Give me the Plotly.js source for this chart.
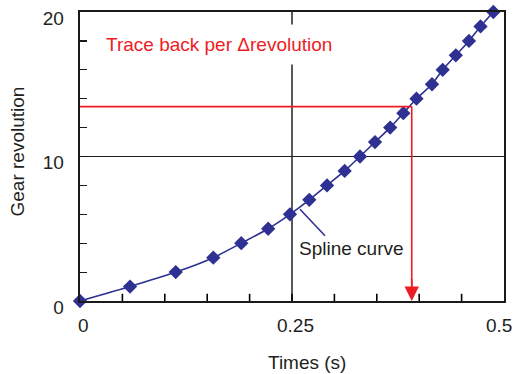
<!DOCTYPE html>
<html>
<head>
<meta charset="utf-8">
<script src="https://cdn.plot.ly/plotly-3.0.1.min.js"></script>
<style>
  html, body { margin: 0; padding: 0; background: #fff; }
  #chart { width: 514px; height: 374px; }
</style>
</head>
<body>
<div id="chart"></div>
<script>
// Gear revolution sampled against time (s)
const times = [0, 0.059, 0.1129, 0.1572, 0.1902, 0.2219, 0.2476, 0.2704, 0.2913, 0.3121,
               0.3302, 0.3479, 0.3658, 0.3813, 0.3968, 0.4151, 0.4277, 0.4432, 0.4587, 0.4723, 0.4874];
const revolutions = [0, 1, 2, 3, 4, 5, 6, 7, 8, 9, 10, 11, 12, 13, 14, 15, 16, 17, 18, 19, 20];

// Trace-back point: revolution read across to the curve, then down to time
const traceRev = 13.45;
const traceTime = 0.3912;

// Axis tick values and labels
const xTickVals = [0, 0.25, 0.5];
const xTickText = ['0', '0.25', '0.5'];
const xMinorStep = 0.05;
const yTickVals = [0, 10, 20];
const yTickText = ['0', '10', '20'];

const navy = '#2e3192';
const red = '#ed1c24';
const ink = '#231f20';
const axisInk = '#1a1a1a';
const gridInk = '#1e1e1e';
const FONT = 'Liberation Sans, Arial, sans-serif';

const curve = {
  x: times,
  y: revolutions,
  type: 'scatter',
  mode: 'lines+markers',
  line: { color: navy, width: 1.6, shape: 'spline', smoothing: 0.6 },
  marker: { symbol: 'diamond', size: 11, color: navy },
  cliponaxis: false,
  hoverinfo: 'skip',
  showlegend: false
};

// x tick labels placed under the axis
const xLabelShift = [3, 3, -5];
const xTickAnnotations = xTickVals.map((v, i) => ({
  x: v, xref: 'x', y: -0.0865, yref: 'paper',
  text: xTickText[i], showarrow: false,
  xanchor: 'center', yanchor: 'middle', xshift: xLabelShift[i],
  font: { family: FONT, size: 19, color: ink }
}));

// inward tick marks every 0.05 s on the time axis (about 7 px tall)
const xTickShapes = [];
for (let k = 1; k < Math.round(0.5 / xMinorStep); k++) {
  const t = +(k * xMinorStep).toFixed(2);
  xTickShapes.push({
    type: 'line', xref: 'x', yref: 'y', x0: t, x1: t, y0: 0, y1: 0.5,
    line: { color: '#000000', width: 1.6 }, layer: 'above'
  });
}

// vertical grid line at the inner labelled time
const xGridShapes = xTickVals.slice(1, -1).map(v => ({
  type: 'line', xref: 'x', yref: 'y', x0: v, x1: v, y0: 0, y1: 20,
  line: { color: '#000000', width: 1.3 }, layer: 'below'
}));

const layout = {
  width: 514,
  height: 374,
  margin: { l: 80, r: 10, t: 12, b: 73, pad: 0 },
  paper_bgcolor: '#ffffff',
  plot_bgcolor: '#ffffff',
  font: { family: FONT, size: 19, color: ink },
  xaxis: {
    range: [0, 0.5],
    showticklabels: false,
    ticks: '',
    showgrid: false,
    showline: true, linecolor: axisInk, linewidth: 2.4, mirror: true,
    zeroline: false, fixedrange: true
  },
  yaxis: {
    range: [0, 20],
    tickmode: 'array',
    tickvals: yTickVals,
    ticktext: yTickText,
    tickfont: { family: FONT, size: 19, color: ink },
    ticklabelstandoff: 10,
    ticklabelshift: 6,
    ticks: 'inside', ticklen: 7, tickwidth: 1.2, tickcolor: axisInk,
    minor: { tickmode: 'linear', dtick: 2, tick0: 0, ticks: 'inside', ticklen: 7, tickwidth: 1.2, tickcolor: axisInk, showgrid: false },
    showgrid: true, gridcolor: gridInk, gridwidth: 1,
    showline: true, linecolor: axisInk, linewidth: 2.4, mirror: true,
    zeroline: false, fixedrange: true
  },
  shapes: xGridShapes.concat(xTickShapes, [
    // horizontal read-across at the chosen revolution
    { type: 'line', xref: 'x', yref: 'y', x0: 0, x1: traceTime, y0: traceRev, y1: traceRev,
      line: { color: red, width: 1.6 }, layer: 'above' },
    // vertical drop to the time axis
    { type: 'line', xref: 'x', yref: 'y', x0: traceTime, x1: traceTime, y0: traceRev, y1: 0.5,
      line: { color: red, width: 1.6 }, layer: 'above' },
    // leader line for the curve label
    { type: 'line', xref: 'x', yref: 'y', x0: 0.2594, y0: 6.35, x1: 0.2889, y1: 4.52,
      line: { color: navy, width: 1.6 }, layer: 'above' }
  ]),
  annotations: [
    // arrow head on the time axis
    { x: traceTime, y: 0, xref: 'x', yref: 'y', ax: 0, ay: -24, axref: 'pixel', ayref: 'pixel',
      text: '', showarrow: true, arrowhead: 2, arrowsize: 1.8, arrowwidth: 1.6, arrowcolor: red },
    { x: 0.019, y: 17.75, xref: 'x', yref: 'y', xanchor: 'left', yanchor: 'middle',
      text: 'Trace back per \u0394revolution', showarrow: false,
      bgcolor: '#ffffff', borderpad: 9,
      font: { family: FONT, size: 19, color: red } },
    { x: 0.3199, y: 3.65, xref: 'x', yref: 'y', xanchor: 'center', yanchor: 'middle',
      text: 'Spline curve', showarrow: false,
      font: { family: FONT, size: 19, color: ink } },
    // axis titles
    { x: 0.5347, y: -0.2145, xref: 'paper', yref: 'paper', xanchor: 'center', yanchor: 'middle',
      text: 'Times (s)', showarrow: false, font: { family: FONT, size: 19, color: ink } },
    { x: -0.1474, y: 0.5156, xref: 'paper', yref: 'paper', xanchor: 'center', yanchor: 'middle',
      text: 'Gear revolution', textangle: -90, showarrow: false, font: { family: FONT, size: 19, color: ink } }
  ].concat(xTickAnnotations)
};

Plotly.newPlot('chart', [curve], layout, { displayModeBar: false, staticPlot: true });
</script>
</body>
</html>
